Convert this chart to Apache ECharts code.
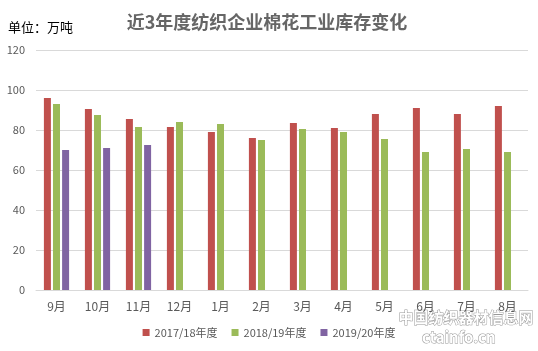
<!DOCTYPE html>
<html><head><meta charset="utf-8">
<script src="https://cdn.jsdelivr.net/npm/echarts@6/dist/echarts.min.js"></script>
<style>html,body{margin:0;padding:0;background:#fff}#c{width:538px;height:351px}</style>
</head><body><div id="c"></div>
<script>
var categories = ['9月','10月','11月','12月','1月','2月','3月','4月','5月','6月','7月','8月'];
var s1718 = [96, 90.5, 85.5, 81.5, 79, 76, 83.5, 81, 88, 91, 88, 92];
var s1819 = [93, 87.5, 81.5, 84, 83, 75, 80.5, 79, 75.5, 69, 70.5, 69];
var s1920 = [70, 71, 72.5, null, null, null, null, null, null, null, null, null];
var seriesNames = ['2017/18年度','2018/19年度','2019/20年度'];
var yTicks = {min: 0, max: 120, interval: 20};

var chart = echarts.init(document.getElementById('c'));
var font = '"Noto Sans CJK SC", "Noto Sans", sans-serif';
chart.setOption({
  animation: false,
  title: {text: '近3年度纺织企业棉花工业库存变化', left: 262, textAlign: 'center', top: 8,
    textStyle: {fontFamily: font, fontSize: 18, fontWeight: 'bold', color: '#666'}},
  graphic: [
    {type: 'text', left: 8, top: 21, style: {text: '单位：万吨', font: '13px ' + font, fill: '#000'}},
    {type: 'text', right: 4, top: 309, style: {text: '中国纺织器材信息网', font: 'bold 15px ' + font, fill: '#fff', stroke: '#999', lineWidth: 1}},
    {type: 'text', right: 42, top: 329, style: {text: 'ctainfo.cn', font: 'bold 15px ' + font, fill: '#fff', stroke: '#999', lineWidth: 1}}
  ],
  legend: {bottom: 8, left: 'center', itemWidth: 7, itemHeight: 7, itemGap: 14, icon: 'rect',
    textStyle: {fontFamily: font, fontSize: 11, color: '#595959'}, data: seriesNames},
  grid: {left: 36, right: 10, top: 50, bottom: 61, containLabel: false},
  xAxis: {type: 'category', data: categories,
    axisLine: {lineStyle: {color: '#d9d9d9'}}, axisTick: {show: false},
    axisLabel: {fontFamily: font, fontSize: 12, color: '#595959', margin: 10}},
  yAxis: {type: 'value', min: yTicks.min, max: yTicks.max, interval: yTicks.interval,
    axisLine: {show: false}, axisTick: {show: false},
    axisLabel: {fontFamily: font, fontSize: 11, color: '#595959', margin: 11},
    splitLine: {lineStyle: {color: '#d9d9d9'}}},
  series: [
    {name: seriesNames[0], type: 'bar', data: s1718, barWidth: 7, barGap: '30%', itemStyle: {color: '#C0504D'}},
    {name: seriesNames[1], type: 'bar', data: s1819, barWidth: 7, barGap: '30%', itemStyle: {color: '#9BBB59'}},
    {name: seriesNames[2], type: 'bar', data: s1920, barWidth: 7, barGap: '30%', itemStyle: {color: '#8064A2'}}
  ]
});
</script></body></html>
